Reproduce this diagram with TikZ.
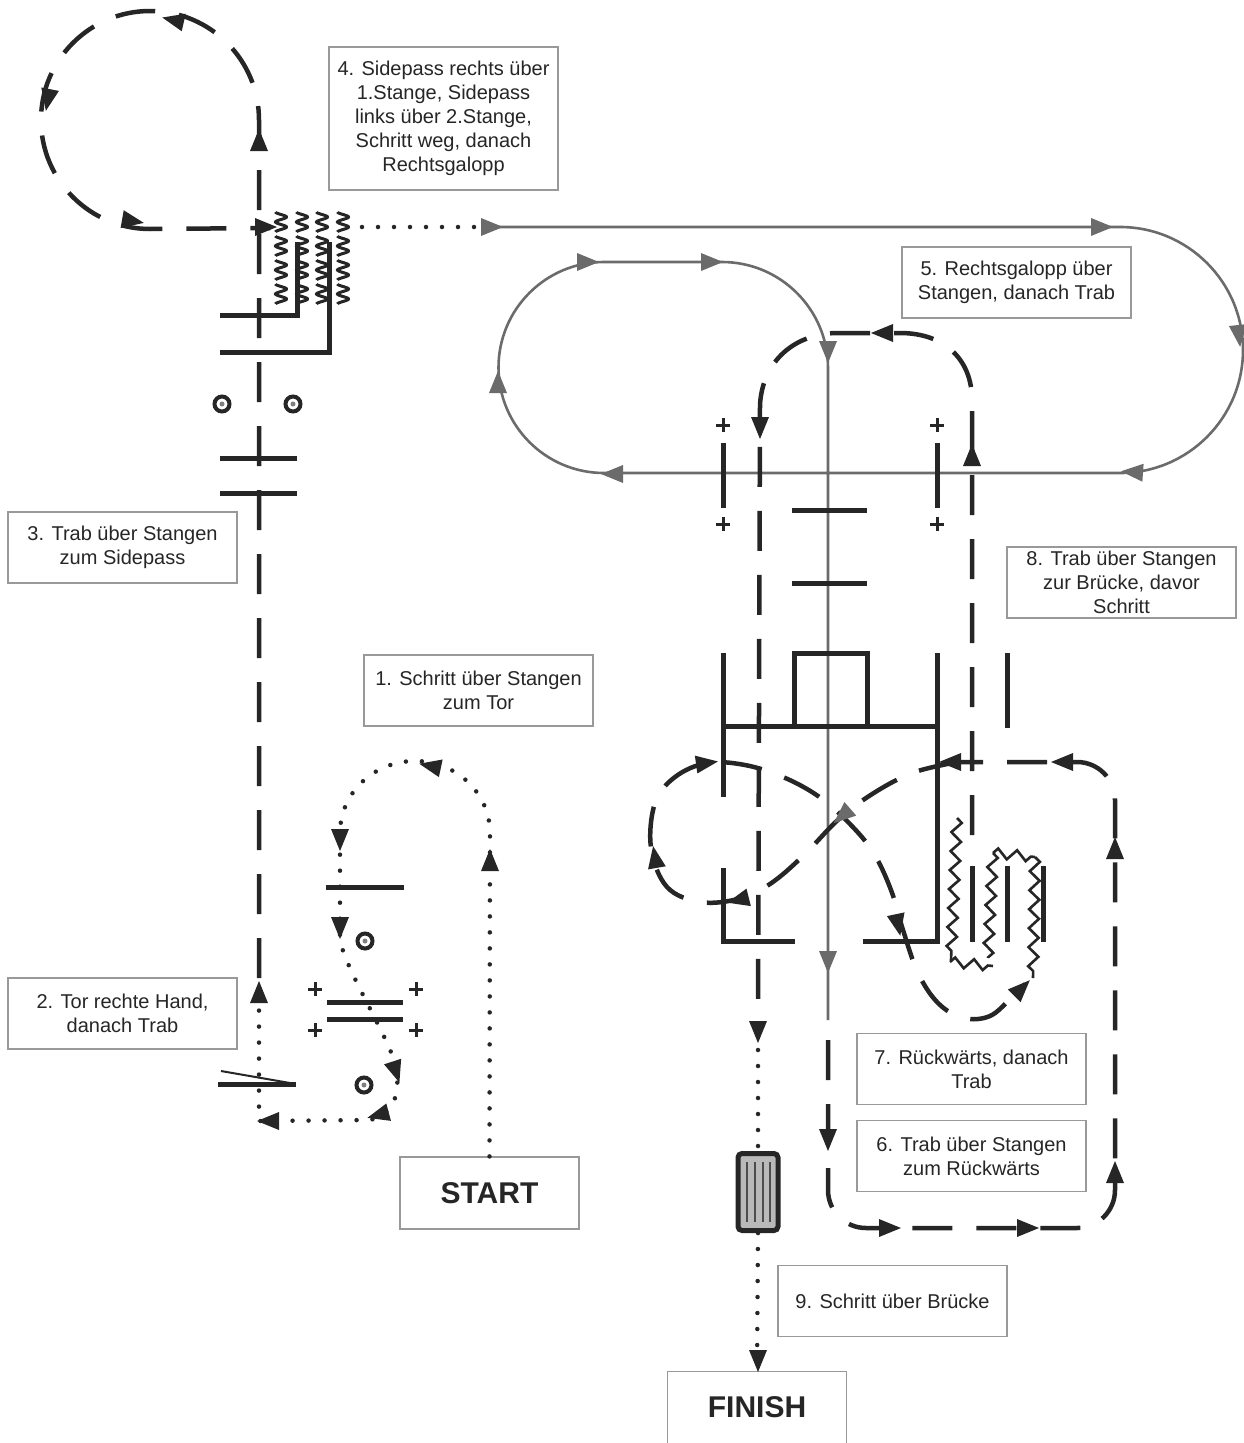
\documentclass[tikz,border=0pt]{standalone}
\usepackage{fontspec}
\setmainfont{Liberation Sans}
\usetikzlibrary{decorations.pathmorphing}

\colorlet{ink}{black!85}
\colorlet{galoppgray}{black!58}
\colorlet{boxgray}{black!40}

% arrow head on a course line: [colour] x, y, direction (0 = right, 90 = down)
\newcommand{\pathtip}[4][ink]{%
  \fill[#1,shift={(#2,#3)},rotate=-#4] (11,0) -- (-11,9) -- (-11,-9) -- cycle;}
% plus sign beside a pole
\newcommand{\plussign}[2]{%
  \draw[ink,line width=3pt] (#1-7,#2) -- (#1+7,#2) (#1,#2-7) -- (#1,#2+7);}
% cone
\newcommand{\cone}[2]{%
  \draw[ink,line width=4pt] (#1,#2) circle[radius=7.5];
  \fill[gray] (#1,#2) circle[radius=2.5];}

\begin{document}
\begin{tikzpicture}[x=1pt,y=-1pt,
    dashline/.style={ink, line width=4.5pt, dash pattern=on 40pt off 24pt},
    dotline/.style={ink, line width=4.5pt, line cap=round, dash pattern=on 0pt off 16pt},
    galopp/.style={galoppgray, line width=2.6pt},
    pole/.style={ink, line width=5pt},
    wavy/.style={ink, line width=2.6pt, decorate, decoration={zigzag, segment length=19pt, amplitude=5pt}},
    coil/.style={ink, line width=3pt},
    infobox/.style={draw=boxgray, line width=1.2pt, fill=white, align=center, text=ink,
        minimum width=229pt, minimum height=71pt, inner sep=0pt, font=\fontsize{20pt}{24pt}\selectfont},
    bigbox/.style={infobox, minimum width=179pt, minimum height=72pt, font=\fontsize{30pt}{34pt}\selectfont\bfseries}]

    \useasboundingbox (0,0) rectangle (1244,1443);

    % text boxes
    \node[infobox, minimum height=143pt] (box4) at (443.5,118.5) {4. Sidepass rechts über\\1.Stange, Sidepass\\links über 2.Stange,\\Schritt weg, danach\\Rechtsgalopp};
    \node[infobox] (box5) at (1016.5,282.5) {5. Rechtsgalopp über\\Stangen, danach Trab};
    \node[infobox] (box3) at (122.5,547.5) {3. Trab über Stangen\\zum Sidepass};
    \node[infobox] (box8) at (1121.5,582.5) {8. Trab über Stangen\\zur Brücke, davor\\Schritt};
    \node[infobox] (box1) at (478.5,690.5) {1. Schritt über Stangen\\zum Tor};
    \node[infobox] (box2) at (122.5,1013.5) {2. Tor rechte Hand,\\danach Trab};
    \node[infobox] (box7) at (971.5,1069) {7. Rückwärts, danach\\Trab};
    \node[infobox] (box6) at (971.5,1156) {6. Trab über Stangen\\zum Rückwärts};
    \node[infobox] (box9) at (892.5,1301) {9. Schritt über Brücke};
    \node[bigbox] (start) at (489.5,1193) {START};
    \node[bigbox] (finish) at (757,1407.5) {FINISH};

    % 1: walk over the poles to the gate
    \draw[dotline] (start.north) -- (490,833) arc[start angle=0,end angle=-180,x radius=75,y radius=72]
        -- (340,940) .. controls (345,965) and (372,1010) .. (388,1045)
        .. controls (403,1078) and (402,1112) .. (370,1120) -- (259,1121) -- (259,985);
    \pathtip{490}{860}{-90}
    \pathtip{430}{766}{192}
    \pathtip{340}{840}{90}
    \pathtip{340}{928}{90}
    \pathtip{396}{1072}{72}
    \pathtip{378}{1115}{165}
    \pathtip{268}{1121}{180}
    \draw[pole] (326,887) -- (404,887);
    \foreach \y in {1002,1019}
        \draw[pole] (327,\y) -- (403,\y);
    \foreach \x in {315,416}{
        \foreach \y in {989,1030}{
            \plussign{\x}{\y}
        }
    }
    \cone{365}{941}
    \cone{364}{1085}

    % 2: gate
    \draw[pole] (218,1084) -- (296,1084);
    \draw[ink,line width=2pt] (221,1071) -- (290,1083);

    % 3 + 4: trot up to the sidepass, circle
    \draw[dashline] (259,978) -- (259,120) arc[start angle=0,end angle=-270,radius=109] -- (270,228);
    \pathtip{259}{992}{-90}
    \pathtip{259}{140}{-90}
    \pathtip{173}{20}{193}
    \pathtip{48}{100}{101}
    \pathtip{133}{221}{10}
    \pathtip{266}{227}{0}
    \foreach \y in {458,493}
        \draw[pole] (220,\y) -- (297,\y);
    \cone{222}{404}
    \cone{293}{404}
    \draw[pole] (220,315) -- (297,315) -- (297,242);
    \draw[pole] (220,352) -- (329,352) -- (329,242);
    \foreach \cx in {281,302,322,343}
        \foreach \cy in {222,246,270,294}
            \draw[coil] plot[domain=0:1, samples=31, smooth, variable=\t]
                ({\cx-5.5*cos(720*\t)}, {\cy-10+20*\t});
    \draw[dotline] (362,227) -- (482,227);

    % 5: canter over the poles
    \draw[galopp] (495,227) -- (1120,227) arc[start angle=-90,end angle=90,radius=123]
        -- (604,473) arc[start angle=90,end angle=270,radius=105.5]
        -- (722,262) arc[start angle=-90,end angle=0,radius=106] -- (828,1020);
    \pathtip[galoppgray]{492}{227}{0}
    \pathtip[galoppgray]{1102}{227}{0}
    \pathtip[galoppgray]{1239}{336}{84}
    \pathtip[galoppgray]{1132}{472}{184}
    \pathtip[galoppgray]{612}{474}{180}
    \pathtip[galoppgray]{498}{382}{-90}
    \pathtip[galoppgray]{588}{262}{0}
    \pathtip[galoppgray]{712}{262}{0}
    \pathtip[galoppgray]{828}{352}{90}
    \pathtip[galoppgray]{828}{962}{90}
    \foreach \x in {723,937}{
        \draw[pole] (\x,443) -- (\x,508);
        \plussign{\x}{425}
        \plussign{\x}{524}
    }
    \foreach \y in {510,583}
        \draw[pole] (792,\y) -- (867,\y);

    % 6 + 7: trot to the back-up, back-up figure
    \draw[dashline,rounded corners=38pt] (828,1040) -- (828,1228) -- (1115,1228) -- (1115,762) -- (958,762);
    \draw[dashline] plot[smooth,tension=0.6] coordinates {(958,762) (915,772) (877,791) (840,818)
        (803,856) (770,884) (738,899) (700,902) (667,887) (651,848) (655,803) (675,777) (707,763)
        (745,765) (783,777) (818,796) (848,822) (873,852) (891,890) (903,930) (918,973)
        (938,1003) (963,1018) (990,1016) (1012,997) (1025,984)};
    \pathtip{828}{1140}{90}
    \pathtip{890}{1228}{0}
    \pathtip{1028}{1228}{0}
    \pathtip{1115}{1172}{-90}
    \pathtip{1115}{848}{-90}
    \pathtip{1062}{762}{180}
    \pathtip{950}{762}{180}
    \pathtip{738}{900}{166}
    \pathtip{655}{857}{-100}
    \pathtip{707}{763}{-8}
    \pathtip[galoppgray]{842}{816}{139}
    \pathtip{898}{925}{78}
    \pathtip{1022}{988}{-45}
    \draw[pole] (723,653) -- (723,797);
    \draw[pole] (723,726) -- (937,726);
    \draw[pole] (937,653) -- (937,941) -- (863,941);
    \draw[pole] (794,726) -- (794,653) -- (867,653) -- (867,726);
    \draw[pole] (723,868) -- (723,941) -- (795,941);
    \draw[pole] (1007,653) -- (1007,728);
    \foreach \x in {972,1007,1043}
        \draw[pole] (\x,866) -- (\x,942);
    \draw[wavy] (957,818) -- (951,960);
    \draw[wavy] (950,962) -- (993,966);
    \draw[wavy] (993,853) -- (988,958);
    \draw[wavy] (993,853) -- (1035,857);
    \draw[wavy] (1035,857) -- (1033,978);

    % 8: trot over the poles to the bridge
    \draw[dashline] (972,835) -- (972,400) .. controls (972,360) and (945,333) .. (900,333)
        -- (835,333) .. controls (790,335) and (762,365) .. (760,405) -- (758,1022);
    \pathtip{972}{455}{-90}
    \pathtip{882}{333}{180}
    \pathtip{760}{428}{90}
    \pathtip{758}{1032}{90}

    % 9: walk over the bridge
    \node[draw=ink, line width=5pt, fill=gray!55, rounded corners=4pt, minimum width=40pt,
        minimum height=77pt, inner sep=0pt] (bridge) at (758,1192) {};
    \foreach \x in {747,755,763,770}
        \draw[black!70,line width=1.6pt] (\x,1162) -- (\x,1222);
    \draw[dotline] (758,1050) -- (bridge.north);
    \draw[dotline] (bridge.south) -- (finish.north);
    \pathtip{758}{1361}{90}
\end{tikzpicture}
\end{document}
